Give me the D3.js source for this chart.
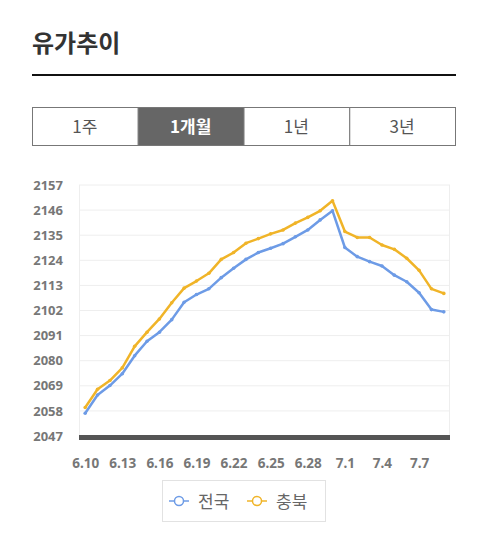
<!DOCTYPE html>
<html>
<head>
<meta charset="utf-8">
<script src="https://cdn.jsdelivr.net/npm/d3@7"></script>
<style>
  body { margin: 0; background: #fff; }
  svg { display: block; }
</style>
</head>
<body>
<div id="chart"></div>
<script>
const dates = ['6.10','6.11','6.12','6.13','6.14','6.15','6.16','6.17','6.18','6.19',
  '6.20','6.21','6.22','6.23','6.24','6.25','6.26','6.27','6.28','6.29',
  '6.30','7.1','7.2','7.3','7.4','7.5','7.6','7.7','7.8','7.9'];
const nationwide = [2057.0,2065.0,2069.1,2074.3,2082.2,2088.5,2092.5,2098.0,2105.6,2109.0,
  2111.5,2116.4,2120.5,2124.4,2127.4,2129.3,2131.3,2134.3,2137.3,2141.7,
  2145.7,2129.6,2125.6,2123.4,2121.5,2117.5,2114.6,2109.8,2102.4,2101.4];
const chungbuk = [2059.5,2067.5,2071.3,2076.9,2086.3,2092.5,2098.3,2105.4,2111.8,2114.9,
  2118.3,2124.4,2127.4,2131.5,2133.5,2135.6,2137.3,2140.3,2142.8,2145.7,
  2150.1,2136.6,2134.0,2134.0,2130.7,2128.8,2124.9,2119.6,2111.5,2109.5];
const yTicks = [2047,2058,2069,2080,2091,2102,2113,2124,2135,2146,2157];
const tabs = ['1주','1개월','1년','3년'];
const seriesNames = ['전국','충북'];
const colors = ['#6d9be6','#f0b428'];

const W = 491, H = 545;
const svg = d3.select('#chart').append('svg').attr('width', W).attr('height', H);

// title
svg.append('text')
  .attr('x', 32).attr('y', 52)
  .style('font-family', '"Noto Sans CJK KR", sans-serif')
  .style('font-size', '24px').style('font-weight', 'bold')
  .attr('fill', '#333')
  .text('유가추이');
svg.append('rect').attr('x', 32).attr('y', 74).attr('width', 424).attr('height', 2).attr('fill', '#111');

// tabs
const tabX = d3.scaleBand().domain(tabs).range([32, 455]);
const tab = svg.append('g').selectAll('g').data(tabs).enter().append('g');
tab.append('rect')
  .attr('x', d => tabX(d) + 0.5).attr('y', 107.5)
  .attr('width', tabX.bandwidth()).attr('height', 38)
  .attr('fill', d => d === '1개월' ? '#666' : '#fff')
  .attr('stroke', '#777');
tab.append('text')
  .attr('x', d => tabX(d) + tabX.bandwidth() / 2).attr('y', 133)
  .attr('text-anchor', 'middle')
  .style('font-family', '"Noto Sans CJK KR", sans-serif')
  .style('font-size', '17px')
  .style('font-weight', d => d === '1개월' ? 'bold' : 'normal')
  .attr('fill', d => d === '1개월' ? '#fff' : '#555')
  .text(d => d);

// chart
const plotL = 79, plotR = 450, plotT = 185, plotB = 436;
const x = d3.scalePoint().domain(dates).range([plotL, plotR]).padding(0.5);
const y = d3.scaleLinear().domain([2047, 2157]).range([plotB, plotT]);

const g = svg.append('g');
g.selectAll('.grid').data(yTicks).enter().append('line')
  .attr('x1', plotL).attr('x2', plotR)
  .attr('y1', d => y(d)).attr('y2', d => y(d))
  .attr('stroke', '#eee');
g.append('line').attr('x1', plotL + 0.5).attr('x2', plotL + 0.5).attr('y1', plotT).attr('y2', plotB).attr('stroke', '#eee');
g.append('line').attr('x1', plotR - 0.5).attr('x2', plotR - 0.5).attr('y1', plotT).attr('y2', plotB).attr('stroke', '#eee');

const yAxis = g.append('g')
  .attr('transform', `translate(${plotL - 16},0)`)
  .call(d3.axisLeft(y).tickValues(yTicks).tickFormat(d3.format('d')).tickSize(0).tickPadding(0));
yAxis.select('.domain').remove();
yAxis.selectAll('text')
  .style('font-family', '"Noto Sans", sans-serif')
  .style('font-size', '13px').style('font-weight', 'bold')
  .attr('fill', '#777');

const xAxis = g.append('g')
  .attr('transform', `translate(0,${plotB})`)
  .call(d3.axisBottom(x).tickValues(dates.filter((d, i) => i % 3 === 0)).tickSize(0).tickPadding(22));
xAxis.select('.domain').remove();
xAxis.selectAll('text')
  .style('font-family', '"Noto Sans", sans-serif')
  .style('font-size', '13.5px').style('font-weight', 'bold')
  .attr('fill', '#777');

g.append('rect').attr('x', plotL).attr('y', 435).attr('width', plotR - plotL).attr('height', 5).attr('fill', '#555');

const line = d3.line().x((d, i) => x(dates[i])).y(d => y(d));
[nationwide, chungbuk].forEach((s, k) => {
  g.append('path').datum(s)
    .attr('d', line).attr('fill', 'none')
    .attr('stroke', colors[k]).attr('stroke-width', 2.5)
    .attr('stroke-linejoin', 'round');
  g.selectAll('.pt' + k).data(s).enter().append('circle')
    .attr('cx', (d, i) => x(dates[i])).attr('cy', d => y(d))
    .attr('r', 1.8).attr('fill', colors[k]);
});

// legend
const lg = svg.append('g');
lg.append('rect').attr('x', 162.5).attr('y', 480.5).attr('width', 163).attr('height', 41)
  .attr('fill', '#fff').attr('stroke', '#e2e2e2');
const items = lg.selectAll('.item').data(seriesNames).enter().append('g')
  .attr('transform', (d, i) => `translate(${169 + i * 78},501)`);
items.append('line').attr('x1', 0).attr('x2', 20).attr('y1', 0).attr('y2', 0)
  .attr('stroke', (d, i) => colors[i]).attr('stroke-width', 1.5);
items.append('circle').attr('cx', 10).attr('cy', 0).attr('r', 4.5)
  .attr('fill', '#fff').attr('stroke', (d, i) => colors[i]).attr('stroke-width', 1.5);
items.append('text').attr('x', 29).attr('y', 6.5)
  .style('font-family', '"Noto Sans CJK KR", sans-serif')
  .style('font-size', '17px').attr('fill', '#666')
  .text(d => d);
</script>
</body>
</html>
